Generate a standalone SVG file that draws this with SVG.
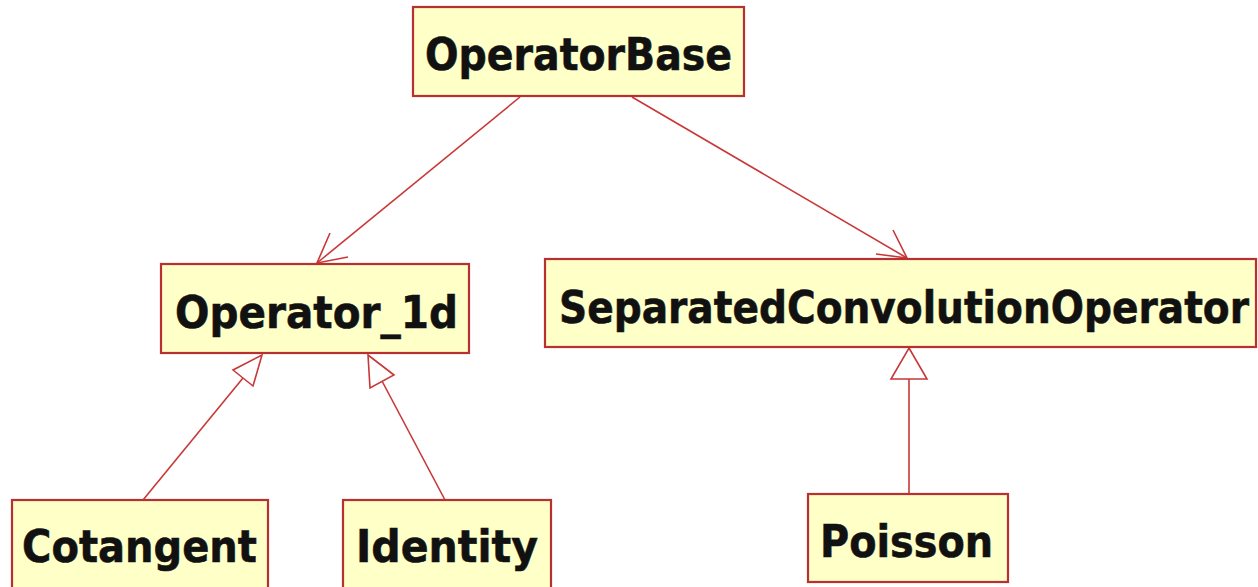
<svg xmlns="http://www.w3.org/2000/svg" width="1258" height="587" viewBox="0 0 1258 587">
<style>
.box{fill:#FFFFC8;stroke:#B83030;stroke-width:2.2}
.lbl{font-family:"DejaVu Sans",Verdana,sans-serif;font-weight:bold;font-size:45px;fill:#111;stroke:#111;stroke-width:0.6}
.edge{stroke:#C83838;stroke-width:1.6;fill:none}
.tri{stroke:#C83838;stroke-width:1.6;fill:#FFFFFF}
</style>
<rect width="1258" height="587" fill="#FFFFFF"/>
<g id="connectors">
<line class="edge" x1="520" y1="97" x2="317" y2="263"/>
<polyline class="edge" points="330,233 317,263 348,257"/>
<line class="edge" x1="632" y1="97" x2="907" y2="258"/>
<polyline class="edge" points="893,230 907,258 876,254"/>
<line class="edge" x1="143" y1="500" x2="243" y2="378"/>
<polygon class="tri" points="262,355 253,386 233,370"/>
<line class="edge" x1="445" y1="500" x2="382" y2="381"/>
<polygon class="tri" points="368,355 394,375 370,388"/>
<line class="edge" x1="909" y1="494" x2="909" y2="379"/>
<polygon class="tri" points="909,348 927,379 891,379"/>
</g>
<g id="OperatorBase">
<rect class="box" x="413" y="7" width="331" height="89"/>
<text class="lbl" x="425" y="70" textLength="307" lengthAdjust="spacingAndGlyphs">OperatorBase</text>
</g>
<g id="Operator_1d">
<rect class="box" x="161" y="264" width="308" height="89"/>
<text class="lbl" x="175" y="328" textLength="283" lengthAdjust="spacingAndGlyphs">Operator_1d</text>
</g>
<g id="SeparatedConvolutionOperator">
<rect class="box" x="545" y="259" width="711" height="88"/>
<text class="lbl" x="559" y="323" textLength="690" lengthAdjust="spacingAndGlyphs">SeparatedConvolutionOperator</text>
</g>
<g id="Cotangent">
<rect class="box" x="12" y="500" width="256" height="92"/>
<text class="lbl" x="22" y="562" textLength="235" lengthAdjust="spacingAndGlyphs">Cotangent</text>
</g>
<g id="Identity">
<rect class="box" x="343" y="500" width="208" height="92"/>
<text class="lbl" x="356" y="562" textLength="182" lengthAdjust="spacingAndGlyphs">Identity</text>
</g>
<g id="Poisson">
<rect class="box" x="808" y="494" width="200" height="88"/>
<text class="lbl" x="820" y="557" textLength="173" lengthAdjust="spacingAndGlyphs">Poisson</text>
</g>
</svg>
